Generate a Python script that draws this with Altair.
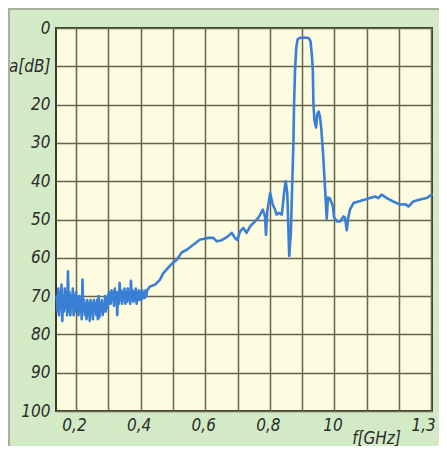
import altair as alt
import pandas as pd

# ---- data ----
noise_f = [0.140, 0.1425, 0.145, 0.1475, 0.150, 0.1525, 0.155, 0.1575, 0.160, 0.1625,
           0.165, 0.1675, 0.170, 0.1725, 0.175, 0.1775, 0.180, 0.1825, 0.185, 0.1875,
           0.190, 0.1925, 0.195, 0.1975, 0.200,
           0.2025, 0.205, 0.2075, 0.210, 0.2125, 0.215, 0.2175, 0.220, 0.2225, 0.225,
           0.2275, 0.230, 0.2325, 0.235, 0.2375, 0.240, 0.2425, 0.245, 0.2475, 0.250,
           0.2525, 0.255, 0.2575, 0.260, 0.2625, 0.265, 0.2675, 0.270, 0.2725, 0.275,
           0.2775, 0.280, 0.2825, 0.285, 0.2875, 0.290, 0.2925, 0.295, 0.2975, 0.300,
           0.3025, 0.305, 0.3075, 0.310, 0.3125, 0.315, 0.3175, 0.320, 0.3225, 0.325,
           0.3275, 0.330, 0.3325, 0.335, 0.3375, 0.340, 0.3425, 0.345, 0.3475, 0.350,
           0.3525, 0.355, 0.3575, 0.360, 0.3625, 0.365, 0.3675, 0.370, 0.3725, 0.375,
           0.3775, 0.380, 0.3825, 0.385, 0.3875, 0.390, 0.3925, 0.395, 0.3975, 0.400,
           0.4025, 0.405, 0.4075, 0.410, 0.4125, 0.415, 0.4175, 0.420]
noise_db = [70, 74, 68, 75, 69, 73, 67, 76.5, 70, 74,
            68, 73, 69, 75, 63.5, 74, 69, 75, 70, 73,
            68, 75, 70, 74, 69,
            73, 71, 75, 70, 74, 71, 76, 65.7, 74, 71,
            75, 72, 76, 71, 75, 72, 76.5, 71, 74, 72,
            76, 71, 74, 72, 75, 71, 76, 70, 75.5, 72,
            74, 71, 75, 72, 74, 70, 74, 71, 73, 69.5,
            72, 69, 72, 68.5, 71, 69, 72.5, 68, 71, 69,
            75, 69, 72, 66.5, 71, 68.5, 72, 69, 71, 68,
            72, 69, 71.5, 68, 71, 69, 72, 66, 71, 68.5,
            71.5, 69, 71, 68, 72, 69, 71, 68.5, 71, 69,
            71, 68.5, 70.5, 69, 70.5, 68.5, 70, 68.5]

main_f = [0.429, 0.445, 0.460, 0.470, 0.476, 0.486, 0.501, 0.512, 0.527, 0.543,
          0.563, 0.584, 0.594, 0.610, 0.625, 0.636, 0.651, 0.667, 0.682, 0.692,
          0.699, 0.708, 0.718, 0.728, 0.739, 0.754, 0.764, 0.770, 0.778, 0.785,
          0.788, 0.792, 0.801, 0.809, 0.816, 0.821, 0.829, 0.837, 0.844, 0.849,
          0.854, 0.860, 0.865, 0.868, 0.873, 0.875, 0.878, 0.882, 0.886, 0.892,
          0.905, 0.920, 0.926, 0.930, 0.933, 0.935, 0.938, 0.943, 0.947, 0.951,
          0.955, 0.959, 0.965, 0.971, 0.976, 0.980, 0.986, 0.995, 0.999, 1.008,
          1.017, 1.028, 1.033, 1.038, 1.042, 1.048, 1.059, 1.074, 1.095, 1.110,
          1.126, 1.136, 1.146, 1.162, 1.182, 1.203, 1.219, 1.229, 1.244, 1.265,
          1.286, 1.301]
main_db = [67.5, 67, 65.7, 64, 63.5, 62.5, 61.2, 60.5, 58.6, 57.9,
           56.6, 55.2, 55.1, 54.8, 54.8, 55.7, 55.4, 54.6, 53.5, 54.8,
           55.4, 53.1, 52.2, 53.5, 51.8, 50.5, 49.6, 48.7, 47.4, 49.2,
           54, 47.9, 43.1, 46.1, 47.4, 48.7, 48.3, 48.7, 43.1, 40,
           43.1, 59.5, 53.5, 44.8, 30, 20, 11, 5, 3, 2.6,
           2.5, 2.6, 3.5, 7, 11, 20, 24, 26, 22.5, 21.8,
           23, 26, 33, 42, 49.8, 44.3, 44.5, 46.5, 49.5, 50.5,
           50.5, 49.2, 49.5, 52.8, 50, 47.4, 45.7, 45.3, 44.8, 44.4,
           44, 44.4, 43.5, 44.4, 45.3, 46.1, 46, 46.6, 45.3, 44.8,
           44.4, 43.5]

x_grid = [0.2, 0.3, 0.4, 0.5, 0.6, 0.7, 0.8, 0.9, 1.0, 1.1, 1.2, 1.3]
y_grid = [0, 10, 20, 30, 40, 50, 60, 70, 80, 90, 100]

df = pd.DataFrame({"f": noise_f + main_f, "a": noise_db + main_db})

FONT = "Liberation Sans Narrow, DejaVu Sans Condensed, sans-serif"
W, H = 376, 383

x_label = ("format(datum.value,'.1f')=='1.0' ? '10' : "
           "(indexof(['0.2','0.4','0.6','0.8','1.3'], format(datum.value,'.1f')) >= 0 ? "
           "replace(format(datum.value,'.1f'),'.',',') : '')")
y_label = "datum.value == 10 ? 'a[dB]' : datum.label"

line = alt.Chart(df).mark_line(color="#3a7fd6", strokeWidth=2.6, strokeJoin="round",
                               strokeCap="round").encode(
    x=alt.X("f:Q", scale=alt.Scale(domain=[0.138, 1.302], nice=False, zero=False),
            axis=alt.Axis(values=x_grid, labelExpr=x_label, title="f[GHz]",
                          labelAlign={"condition": {"test": "datum.value > 1.25", "value": "right"},
                                      "value": "center"},
                          labelOffset={"condition": {"test": "datum.value > 1.25", "value": 4},
                                       "value": -2},
                          titleX=320, titleY=32, titleAlign="center",
                          titleBaseline="alphabetic")),
    y=alt.Y("a:Q", scale=alt.Scale(domain=[0, 100], reverse=True, nice=False),
            axis=alt.Axis(values=y_grid, labelExpr=y_label, title=None)),
    order=alt.Order("f:Q"),
)

border_left = alt.Chart(df).mark_rule(color="#a8b0a0", strokeWidth=1.5).encode(
    x=alt.value(-47.5), y=alt.value(-19), y2=alt.value(H + 40))
border_top = alt.Chart(df).mark_rule(color="#a8b0a0", strokeWidth=1.5).encode(
    y=alt.value(-19), x=alt.value(-47.5), x2=alt.value(W + 20))

chart = alt.layer(line, border_left, border_top).properties(
    width=W, height=H,
    autosize=alt.AutoSizeParams(type="none"),
    padding={"left": 48, "top": 20, "right": 7, "bottom": 35},
    background="#d2eac6",
).configure_view(
    fill="#fdfbe0", stroke="#3b3a2c", strokeWidth=2,
).configure_axis(
    grid=True, gridColor="#66644c", gridWidth=1.5, gridOpacity=1,
    domain=False, ticks=False,
    labelFont=FONT, labelFontSize=17, labelFontStyle="italic", labelColor="#2b2b2b",
    labelOverlap=False, labelFlush=False, labelBound=False,
    titleFont=FONT, titleFontSize=17, titleFontStyle="italic", titleFontWeight="normal",
    titleColor="#2b2b2b",
).configure_axisX(labelPadding=6).configure_axisY(labelPadding=6)

chart.save("out.html", embed_options={"renderer": "svg", "actions": False})
